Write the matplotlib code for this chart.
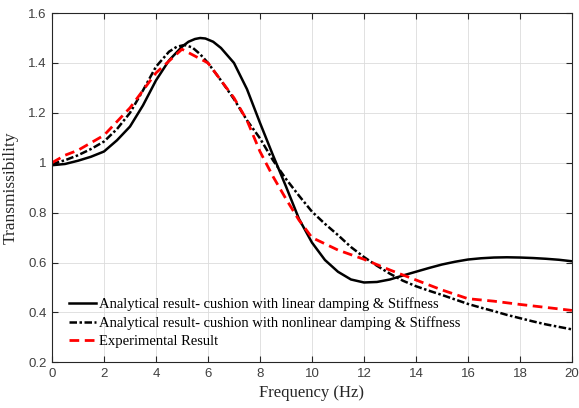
import numpy as np
import matplotlib
matplotlib.use('Agg')
import matplotlib.pyplot as plt

# Linear damping & stiffness (analytical)
freq_lin = [0, 0.5, 1, 1.5, 2, 2.5, 3, 3.5, 4, 4.5, 5, 5.25, 5.5, 5.7, 5.9, 6.2, 6.5, 7,
            7.5, 8, 8.5, 9, 9.5, 10, 10.5, 11, 11.5, 12, 12.5, 13, 13.5, 14, 14.5, 15,
            15.5, 16, 16.5, 17, 17.5, 18, 18.5, 19, 19.5, 20]
trans_lin = [0.99, 0.995, 1.008, 1.024, 1.045, 1.09, 1.145, 1.23, 1.33, 1.41, 1.465,
             1.485, 1.496, 1.50, 1.498, 1.485, 1.46, 1.40, 1.295, 1.16, 1.03, 0.905,
             0.775, 0.68, 0.61, 0.563, 0.532, 0.52, 0.522, 0.532, 0.548, 0.563, 0.578,
             0.592, 0.603, 0.612, 0.617, 0.62, 0.621, 0.62, 0.618, 0.615, 0.611, 0.605]

# Nonlinear damping & stiffness (analytical)
freq_nl = [0, 0.5, 1, 1.5, 2, 2.5, 3, 3.5, 4, 4.5, 4.8, 5.1, 5.4, 5.7, 6, 6.5, 7, 7.5,
           8, 8.5, 9, 9.5, 10, 10.5, 11, 11.5, 12, 12.5, 13, 13.5, 14, 14.5, 15, 15.5,
           16, 16.5, 17, 17.5, 18, 18.5, 19, 19.5, 20]
trans_nl = [0.995, 1.01, 1.03, 1.055, 1.085, 1.135, 1.2, 1.29, 1.385, 1.445, 1.465,
            1.472, 1.462, 1.435, 1.40, 1.33, 1.255, 1.17, 1.098, 1.01, 0.935, 0.868,
            0.804, 0.755, 0.71, 0.662, 0.622, 0.587, 0.555, 0.527, 0.505, 0.487, 0.47,
            0.452, 0.434, 0.419, 0.405, 0.39, 0.377, 0.364, 0.352, 0.342, 0.332]

# Experimental result
freq_exp = [0, 0.5, 1, 2, 3, 3.5, 4, 5, 6, 7, 7.5, 8, 8.5, 9, 9.5, 10, 11, 12, 13,
            14, 15, 16, 17, 18, 19, 20]
trans_exp = [1.0, 1.03, 1.05, 1.11, 1.22, 1.29, 1.36, 1.455, 1.40, 1.26, 1.17, 1.045,
             0.945, 0.855, 0.77, 0.70, 0.65, 0.613, 0.57, 0.53, 0.49, 0.455, 0.445,
             0.432, 0.42, 0.408]

labels = ['Analytical result- cushion with linear damping & Stiffness',
          'Analytical result- cushion with nonlinear damping & Stiffness',
          'Experimental Result']

fig = plt.figure(figsize=(5.79, 4.08), dpi=100)
ax = fig.add_axes([0.0898, 0.112, 0.898, 0.856])

ax.plot(freq_lin, trans_lin, color='black', linewidth=1.8, label=labels[0])
l2, = ax.plot(freq_nl, trans_nl, color='black', linewidth=1.8, label=labels[1])
l2.set_dashes((3, 1, 1, 1))
l3, = ax.plot(freq_exp, trans_exp, color='red', linewidth=2, label=labels[2])
l3.set_dashes((3.5, 2))

ax.set_xlim(0, 20)
ax.set_ylim(0.2, 1.6)
ax.set_xticks(np.arange(0, 21, 2))
ax.set_yticks([0.2, 0.4, 0.6, 0.8, 1.0, 1.2, 1.4, 1.6])
ax.set_yticklabels(['0.2', '0.4', '0.6', '0.8', '1', '1.2', '1.4', '1.6'])
ax.grid(True, color='#dcdcdc', linewidth=0.6)
ax.set_axisbelow(True)
ax.tick_params(direction='in', top=True, right=True, length=4, width=0.8,
               colors='#262626', labelsize=9.5, labelcolor='#404040', pad=4)
for lab in ax.get_xticklabels() + ax.get_yticklabels():
    lab.set_family('Liberation Sans')
for s in ax.spines.values():
    s.set_color('#262626')
    s.set_linewidth(0.8)

ax.set_xlabel('Frequency (Hz)', family='Liberation Serif', fontsize=12, color='#262626',
              labelpad=4)
ax.set_ylabel('Transmissibility', family='Liberation Serif', fontsize=12.5, color='#262626',
              labelpad=7)

leg = ax.legend(loc='lower left', frameon=False, prop={'family': 'Liberation Serif', 'size': 10.5},
                handlelength=1.85, handletextpad=0.2, labelspacing=0.36,
                borderaxespad=0.57, bbox_to_anchor=(0.006, 0.0))

fig.savefig('out.png', dpi=100)
